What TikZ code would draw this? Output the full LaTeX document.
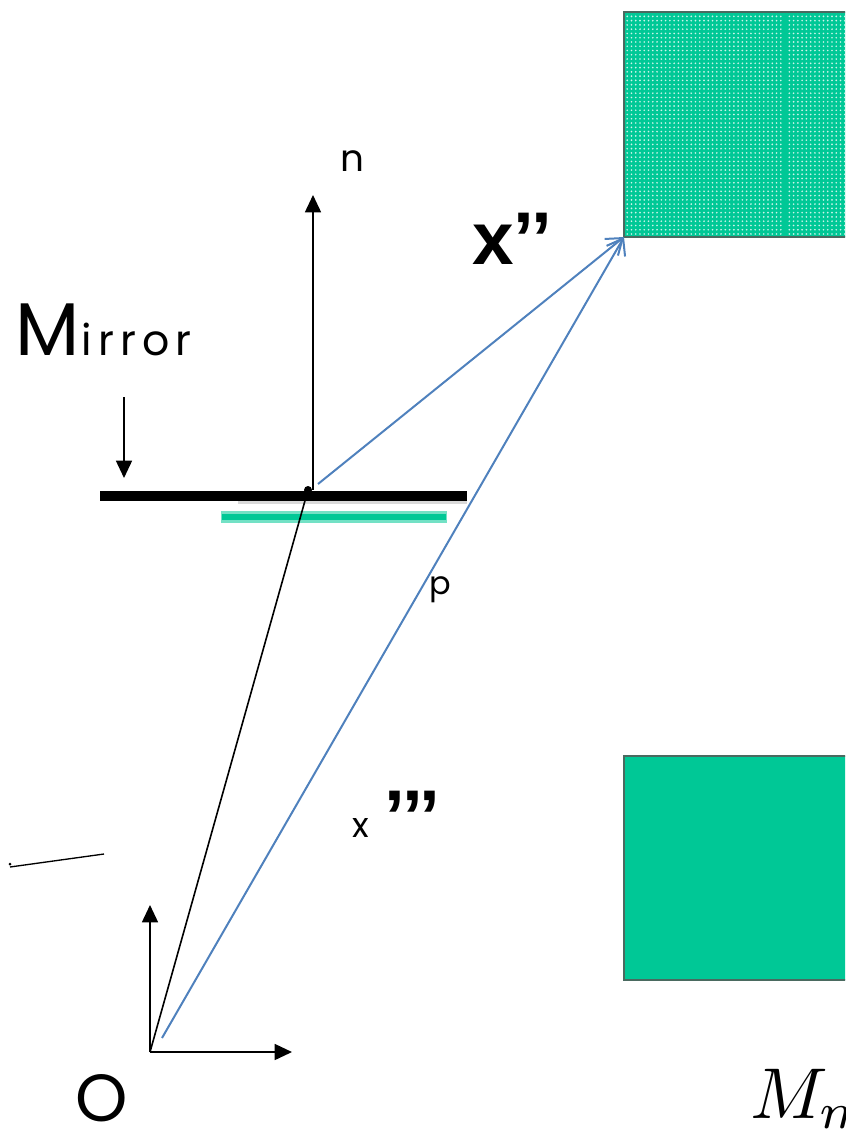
\documentclass[tikz,border=0pt]{standalone}
\usepackage{fontspec}
\setmainfont{Poppins}
\newfontfamily\arialf{Liberation Sans}
\usetikzlibrary{arrows.meta,patterns.meta}
\definecolor{mgreen}{HTML}{00C896}
\definecolor{mblue}{HTML}{4F81BD}
\definecolor{boxedge}{HTML}{4A6A60}
\tikzset{
  blk/.style={line width=1.2pt, draw=black},
  blkarrow/.style={blk, -{Triangle[width=12pt,length=13pt]}},
  bluearrow/.style={line width=1.5pt, draw=mblue, -{Straight Barb[length=11pt,width=16pt,line width=1.5pt]}},
  lbl/.style={inner sep=0pt, outer sep=0pt},
  greenbox/.style={fill=mgreen, draw=boxedge, line width=1.4pt}
}
\begin{document}
\begin{tikzpicture}[x=0.75pt,y=-0.75pt]
\useasboundingbox (0,0) rectangle (845,1130);
\clip (0,0) rectangle (845,1130);

% top dotted box
\fill[mgreen] (624,12) rectangle (860,237);
\fill[pattern={Dots[distance=3.2pt, radius=0.7pt]}, pattern color=white!80!mgreen] (624,12) rectangle (860,237);
\fill[mgreen] (783.5,12) rectangle (786.5,237);
\draw[draw=boxedge, line width=1.4pt] (860,12) -- (624,12) -- (624,237) -- (860,237);
\coordinate (T) at (624,237);

% bottom solid box
\draw[greenbox] (860,756) -- (624,756) -- (624,980) -- (860,980);

% mirror
\draw[line width=3pt, black!15] (238,502) -- (467,502);
\draw[line width=7.5pt, black] (100,496) -- (467,496);
\draw[line width=8.5pt, mgreen!55] (221,517) -- (447,517);
\draw[line width=5pt, mgreen] (222,517) -- (446,517);

% points
\coordinate (O) at (150,1052);
\coordinate (Oy) at (150,905);
\coordinate (Ox) at (292,1052);
\coordinate (P) at (308,490);
\coordinate (Nbase) at (313,490);
\coordinate (Ntip) at (313,195);
\coordinate (B1) at (318,484);
\coordinate (B2) at (162,1038);
\coordinate (Ma) at (124,397);
\coordinate (Mb) at (124,478);
\coordinate (L1) at (10,867);
\coordinate (L2) at (104,854);

% normal
\draw[blkarrow] (Nbase) -- (Ntip);
% incoming line
\draw[blk] (O) -- (P);
\fill (P) circle (4);
% axes
\draw[blkarrow] (O) -- (Oy);
\draw[blkarrow] (O) -- (Ox);
% mirror pointer
\draw[blkarrow] (Ma) -- (Mb);
% short line
\draw[line width=1pt] (L1) -- (L2);
\fill (L1) ++(0,-3) circle (1.5);

% blue rays
\draw[bluearrow] (B1) -- (T);
\draw[bluearrow] (B2) -- (T);

% labels
\node[lbl, anchor=base west, font=\fontsize{28}{28}\selectfont] (nl) at (340,172) {n};
\node[lbl, anchor=base west, font=\arialf\bfseries\fontsize{56}{56}\selectfont] (xpp) at (472,265) {x’’};
\node[lbl, anchor=base west] (mirror) at (15,355) {\fontsize{56}{56}\selectfont M\kern2pt\fontsize{32}{32}\selectfont\addfontfeatures{LetterSpace=14}irror};
\node[lbl, anchor=base west, font=\fontsize{24}{24}\selectfont] (pl) at (429,594) {p};
\node[lbl, anchor=base west, font=\fontsize{26}{26}\selectfont] (xl) at (352,837) {x};
\node[lbl, anchor=base west, font=\arialf\bfseries\fontsize{56}{56}\selectfont] (xq) at (384,842) {’’’};
\node[lbl, anchor=base, text depth=0pt, font=\fontsize{50}{50}\selectfont] (Ol) at (102,1121) {O};
\node[lbl, anchor=base west, scale=5.4] (Mm) at (750,1118) {$M_m$};
\end{tikzpicture}
\end{document}
